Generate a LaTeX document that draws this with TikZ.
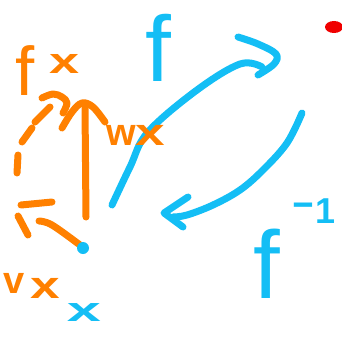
\documentclass[tikz,border=0pt]{standalone}
\usepackage{fontspec}
\setmainfont{Liberation Sans}
\definecolor{sky}{RGB}{20,190,245}
\definecolor{org}{RGB}{255,128,0}
\definecolor{reddot}{RGB}{240,0,0}
\begin{document}
\begin{tikzpicture}[x=1pt,y=-1pt,
  pen/.style={line width=7pt,line cap=round,line join=round},
  bluepen/.style={pen,draw=sky},
  orangepen/.style={pen,draw=org},
  lbl/.style={inner sep=0pt,outer sep=0pt}]
\useasboundingbox (0,0) rectangle (342,337);
% blue forward arc f
\draw[bluepen] plot[smooth,tension=0.6] coordinates {(112,205) (130,167) (148,132) (197,90) (240,64) (262,67)};
\draw[bluepen] plot[smooth,tension=0.6] coordinates {(238,37) (258,44) (276,54) (274,64) (258,75)};
% blue backward arc f^-1
\draw[bluepen] plot[smooth,tension=0.6] coordinates {(302,113) (287,143) (263,170) (240,190) (213,205) (187,215) (173,217)};
\draw[bluepen] (188,197) -- (164,213) -- (183,227);
% labels
\node[lbl,text=sky] (f) at (158,48) {\fontsize{93}{93}\selectfont f};
\node[lbl,text=sky,anchor=base west] (finv) at (253,298) {\fontsize{96}{96}\selectfont f\kern12pt\fontsize{36}{36}\selectfont\bfseries\raisebox{84pt}{\scalebox{2}[1]{-}}\raisebox{75pt}{1}};
\node[lbl,text=sky] (bx) at (84,313) {\fontsize{34}{34}\selectfont\bfseries\scalebox{1.8}[1]{x}};
% red dot
\fill[reddot] (334,27) ellipse [x radius=9pt, y radius=6pt];
% orange arrow w_x
\draw[orangepen] (86,217) -- (85,107);
\draw[orangepen] plot[smooth,tension=0.6] coordinates {(62,128) (72,112) (82,103) (93,107) (105,122)};
% orange dashed arc
\draw[orangepen] plot[smooth,tension=0.6] coordinates {(42,98) (53,94) (62,97) (67,103) (63,113)};
\draw[orangepen] (50,107) -- (35,122);
\draw[orangepen] (32,128) -- (22,142);
\draw[orangepen] (18,155) -- (17,173);
\draw[orangepen] (21,205) -- (52,202);
\draw[orangepen] (18,216) -- (28,235);
\draw[orangepen] plot[smooth,tension=0.6] coordinates {(39,221) (52,225) (80,245)};
% blue point
\fill[sky] (83,248) circle [radius=6pt];
% orange labels
\node[lbl,text=org,anchor=base west] (fx) at (16,95) {\fontsize{69}{69}\selectfont f\kern14pt\fontsize{36}{36}\selectfont\bfseries\raisebox{22pt}{\scalebox{1.5}[1]{x}}};
\node[lbl,text=org,anchor=base west] (wx) at (106,145) {\fontsize{38}{38}\selectfont\bfseries w\scalebox{1.4}[1]{x}};
\node[lbl,text=org,anchor=base west] (vx) at (4,293) {\fontsize{38}{38}\selectfont\bfseries v\kern5pt\raisebox{-5pt}{\scalebox{1.4}[1]{x}}};
\end{tikzpicture}
\end{document}
